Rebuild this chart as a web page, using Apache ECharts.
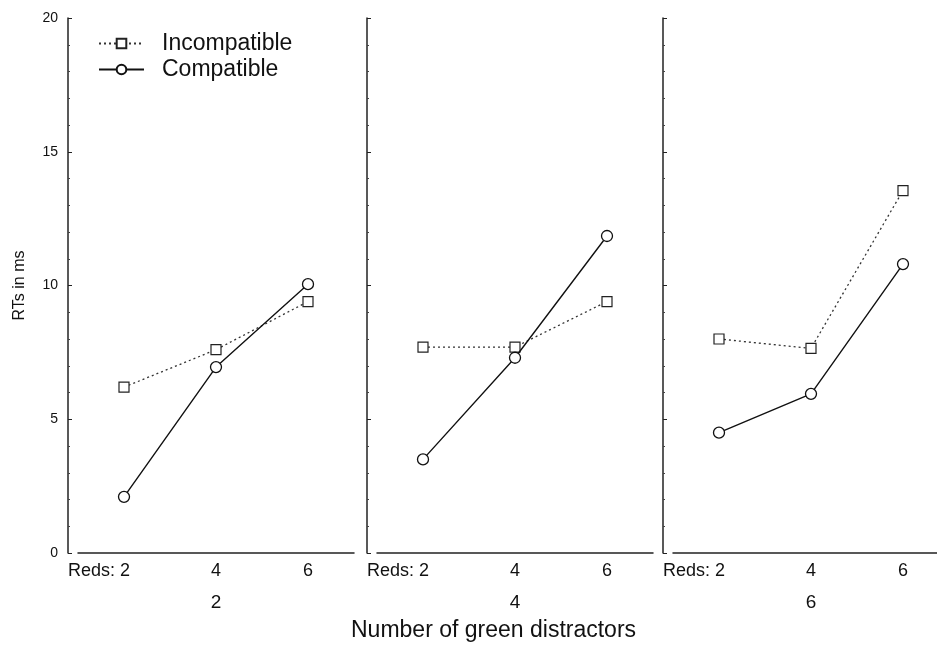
<!DOCTYPE html>
<html>
<head>
<meta charset="utf-8">
<script src="https://cdn.jsdelivr.net/npm/echarts@6/dist/echarts.min.js"></script>
<style>
  html, body { margin: 0; padding: 0; background: #fff; }
  #chart { width: 937px; height: 653px; }
</style>
</head>
<body>
<div id="chart"></div>
<script>
// 数据：红色个数 x 绿色干扰物个数
const reds = ['2', '4', '6']
const greens = ['2', '4', '6']
const yTicks = [0, 5, 10, 15, 20]

const incompatible = [
  [6.2, 7.6, 9.4],
  [7.7, 7.7, 9.4],
  [8.0, 7.65, 13.55]
]
const compatible = [
  [2.1, 6.95, 10.05],
  [3.5, 7.3, 11.85],
  [4.5, 5.95, 10.8]
]

const chart = echarts.init(document.getElementById('chart'))

const font = 'Liberation Sans, Arial, sans-serif'
const gridLefts = [78, 377, 673]

// outerBoundsMode none: 第三个网格允许超出画布右边
const grids = gridLefts.map((l) => ({
  left: l, width: 276, top: 18, height: 535, outerBoundsMode: 'none'
}))

const xAxes = greens.map((g, i) => ({
  type: 'category',
  gridIndex: i,
  data: reds.map((r, k) => k === 0
    ? { value: r, textStyle: { align: 'right', padding: [0, -6, 0, 0] } }
    : r),
  axisLine: { lineStyle: { color: '#222', width: 1.5 } },
  axisTick: { inside: true, alignWithLabel: true, length: 3, lineStyle: { color: '#222' } },
  axisLabel: {
    color: '#111',
    fontFamily: font,
    fontSize: 18,
    margin: 9,
    formatter: (v, k) => (k === 0 ? 'Reds: ' + v : v)
  },
  name: g,
  nameLocation: 'middle',
  nameGap: 40,
  nameTextStyle: { color: '#111', fontFamily: font, fontSize: 19 }
}))

const yAxes = greens.map((g, i) => ({
  type: 'value',
  gridIndex: i,
  min: yTicks[0],
  max: yTicks[yTicks.length - 1],
  interval: 5,
  offset: 10,
  splitLine: { show: false },
  axisLine: { show: true, lineStyle: { color: '#222', width: 1.5 } },
  axisTick: { show: true, inside: true, length: 4, lineStyle: { color: '#222' } },
  minorTick: { show: true, splitNumber: 5, length: 2, lineStyle: { color: '#444' } },
  axisLabel: { show: i === 0, color: '#111', fontFamily: font, fontSize: 14, margin: 10 },
  name: i === 0 ? 'RTs in ms' : '',
  nameLocation: 'middle',
  nameGap: 40,
  nameTextStyle: { color: '#111', fontFamily: font, fontSize: 16 }
}))

const series = []
greens.forEach((g, i) => {
  series.push({
    name: 'Incompatible',
    type: 'line',
    xAxisIndex: i,
    yAxisIndex: i,
    data: incompatible[i],
    symbol: 'rect',
    symbolSize: 10,
    showAllSymbol: true,
    lineStyle: { color: '#333', width: 1.3, type: [2, 3] },
    itemStyle: { color: '#fff', borderColor: '#222', borderWidth: 1.2 },
    z: 2
  })
  series.push({
    name: 'Compatible',
    type: 'line',
    xAxisIndex: i,
    yAxisIndex: i,
    data: compatible[i],
    symbol: 'circle',
    symbolSize: 11,
    lineStyle: { color: '#111', width: 1.4 },
    itemStyle: { color: '#fff', borderColor: '#111', borderWidth: 1.3 },
    z: 3
  })
})

const options = {
  animation: false,
  backgroundColor: '#fff',
  title: {
    text: 'Number of green distractors',
    left: 346,
    top: 614,
    textStyle: { color: '#111', fontFamily: font, fontSize: 23, fontWeight: 'normal' }
  },
  legend: {
    orient: 'vertical',
    left: 93,
    top: 27,
    itemWidth: 45,
    itemHeight: 12,
    itemGap: 3,
    data: ['Incompatible', 'Compatible'],
    textStyle: { color: '#111', fontFamily: font, fontSize: 23, padding: [0, 0, 0, 13] }
  },
  grid: grids,
  xAxis: xAxes,
  yAxis: yAxes,
  series: series
}

chart.setOption(options)
</script>
</body>
</html>
